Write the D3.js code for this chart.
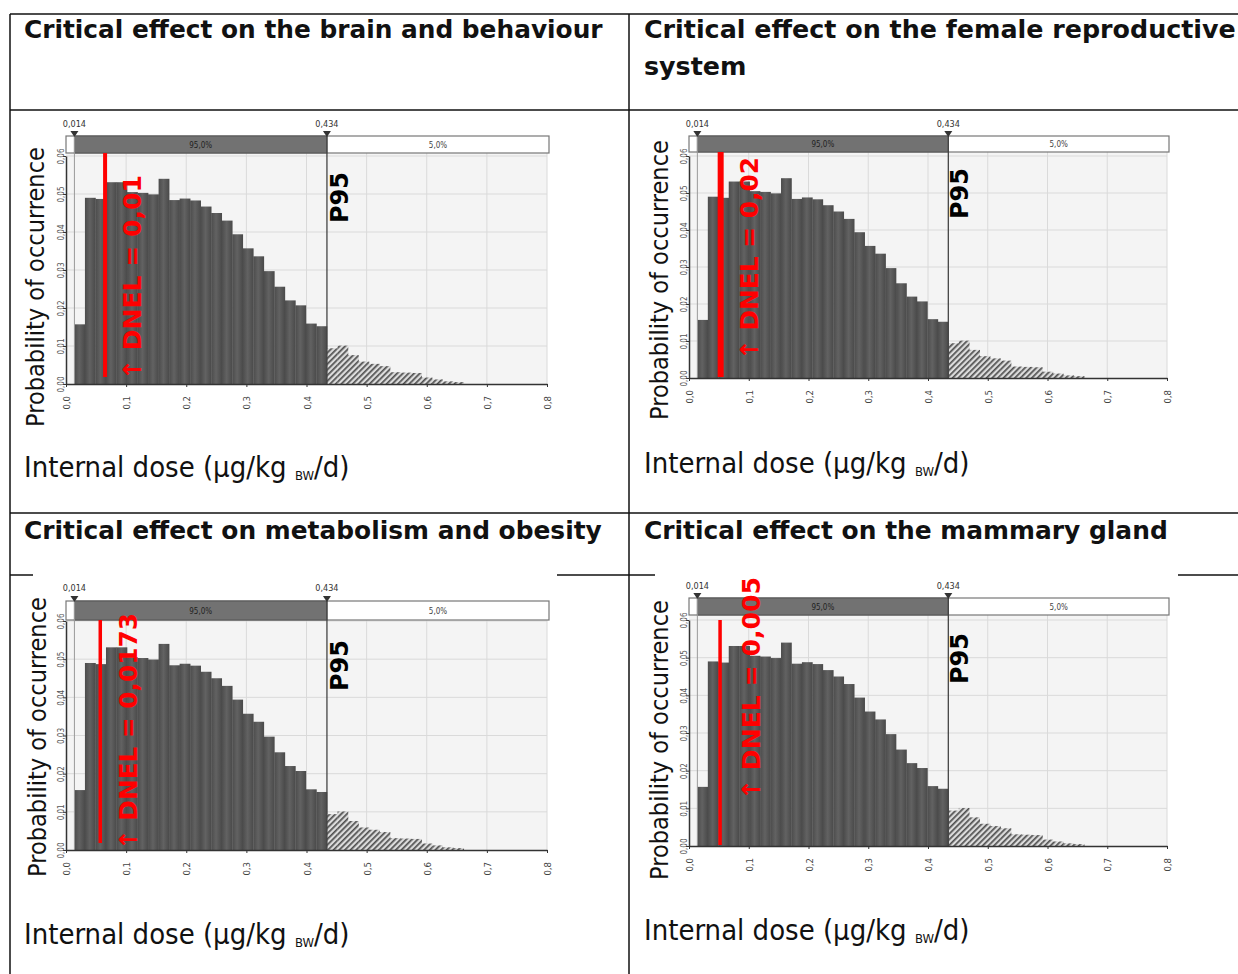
<!DOCTYPE html>
<html><head><meta charset="utf-8">
<script src="https://cdn.jsdelivr.net/npm/d3@7"></script>
<style>body{margin:0;background:#fff}svg{display:block}</style>
</head><body>
<script>
// ---------------- data ----------------
const panelTitles = [
  ["Critical effect on the brain and behaviour"],
  ["Critical effect on the female reproductive", "system"],
  ["Critical effect on metabolism and obesity"],
  ["Critical effect on the mammary gland"]
];
const dnelLabels = ["0,01", "0,02", "0,0173", "0,005"];
const dnelMarkX = [0.065, 0.053, 0.057, 0.052];   // where the red DNEL bar is drawn (dose units)
const binStart = 0.014, binWidth = 0.0175;
const probCentral = [0.0157, 0.0490, 0.0487, 0.0531, 0.0531, 0.0505, 0.0503, 0.0499,
                     0.0540, 0.0484, 0.0488, 0.0483, 0.0467, 0.0450, 0.0430, 0.0394,
                     0.0357, 0.0336, 0.0297, 0.0256, 0.0220, 0.0207, 0.0159, 0.0152];
const probTail = [0.0094, 0.0101, 0.0076, 0.0059, 0.0053, 0.0047, 0.0031, 0.0030,
                  0.0029, 0.0017, 0.0012, 0.0007, 0.0005];
const lowerBound = 0.014, p95 = 0.434;
const boundLabels = ["0,014", "0,434"];
const bandLabels = ["95,0%", "5,0%"];
const xTicks = [0, 0.1, 0.2, 0.3, 0.4, 0.5, 0.6, 0.7, 0.8];
const xTickLabels = ["0,0", "0,1", "0,2", "0,3", "0,4", "0,5", "0,6", "0,7", "0,8"];
const yTicks = [0, 0.01, 0.02, 0.03, 0.04, 0.05, 0.06];
const yTickLabels = ["0,00", "0,01", "0,02", "0,03", "0,04", "0,05", "0,06"];
const yAxisTitle = "Probability of occurrence";
const xAxisTitle = ["Internal dose (µg/kg ", "BW", "/d)"];
const p95Label = "P95";

// ---------------- layout ----------------
const W = 1238, H = 974;
const titleWidths = [579, 592, 578, 524];
const layout = [
  {tx: 24, ty: 38, x0: 66, x1: 547, yTop: 156, yBase: 384, bTop: 136, bBot: 153, lblY: 127,
   redTop: 153, redBot: 377, redW: 4, dnX: 141, dnY: 380, dnLen: 205, pX: 348, pY: 223,
   prX: 44, prCy: 287, xtY: 477},
  {tx: 644, ty: 38, x0: 689, x1: 1167, yTop: 156, yBase: 378, bTop: 136, bBot: 152, lblY: 127,
   redTop: 152, redBot: 377, redW: 6, dnX: 758, dnY: 360, dnLen: 203, pX: 968, pY: 219,
   prX: 668, prCy: 280, xtY: 473},
  {tx: 24, ty: 539, x0: 66, x1: 547, yTop: 621, yBase: 850, bTop: 601, bBot: 620, lblY: 591,
   redTop: 620, redBot: 843, redW: 3.5, dnX: 137, dnY: 850, dnLen: 237, pX: 348, pY: 691,
   prX: 46, prCy: 737, xtY: 944, img: [33, 557]},
  {tx: 644, ty: 539, x0: 689, x1: 1167, yTop: 620, yBase: 846, bTop: 598, bBot: 615, lblY: 589,
   redTop: 620, redBot: 845, redW: 3.5, dnX: 760, dnY: 800, dnLen: 223, pX: 968, pY: 684,
   prX: 668, prCy: 740, xtY: 940, img: [655, 1178]}
];
const narrow = "'DejaVu Sans Condensed', Tahoma, 'DejaVu Sans', sans-serif";
const wide = "Verdana, 'DejaVu Sans', sans-serif";

const svg = d3.select("body").append("svg").attr("width", W).attr("height", H)
  .style("font-family", narrow);

const defs = svg.append("defs");
const grad = defs.append("linearGradient").attr("id", "barGrad").attr("x1", 0).attr("x2", 1).attr("y1", 0).attr("y2", 0);
grad.append("stop").attr("offset", "0%").attr("stop-color", "#4c4c4c");
grad.append("stop").attr("offset", "45%").attr("stop-color", "#626262");
grad.append("stop").attr("offset", "100%").attr("stop-color", "#494949");
const pat = defs.append("pattern").attr("id", "hatch").attr("patternUnits", "userSpaceOnUse")
  .attr("width", 4).attr("height", 4).attr("patternTransform", "rotate(45)");
pat.append("rect").attr("width", 4).attr("height", 4).attr("fill", "#dcdcdc");
pat.append("rect").attr("width", 1.7).attr("height", 4).attr("fill", "#505050");

function fitText(sel, target) {
  const w = sel.node().getComputedTextLength();
  const fs = parseFloat(sel.attr("font-size"));
  sel.attr("font-size", fs * target / w);
  return fs * target / w;
}

// ---------------- table ----------------
const table = svg.append("g").attr("stroke", "#111").attr("stroke-width", 1.5);
[[10, 14, 1238, 14], [10, 110, 1238, 110], [10, 513, 1238, 513], [10, 575, 1238, 575],
 [10, 14, 10, 974], [629, 14, 629, 974]].forEach(l =>
  table.append("line").attr("x1", l[0]).attr("y1", l[1]).attr("x2", l[2]).attr("y2", l[3]));

layout.forEach((L, pi) => {
  const g = svg.append("g");
  if (L.img) g.append("rect").attr("x", L.img[0]).attr("y", 566).attr("width", L.img[1] - L.img[0])
    .attr("height", 340).attr("fill", "#fff");

  let tfs = 17;
  panelTitles[pi].forEach((line, li) => {
    const t = g.append("text").attr("x", L.tx).attr("y", L.ty + li * 37).attr("font-size", tfs)
      .attr("font-weight", "bold").attr("font-family", wide)
      .attr("fill", "#111").text(line);
    if (li === 0) tfs = fitText(t, titleWidths[pi]);
  });

  const x = d3.scaleLinear().domain([0, 0.8]).range([L.x0, L.x1]);
  const y = d3.scaleLinear().domain([0, 0.06]).range([L.yBase, L.yTop]);

  // plot background
  g.append("rect").attr("x", L.x0).attr("y", L.bBot).attr("width", L.x1 - L.x0)
    .attr("height", L.yBase - L.bBot).attr("fill", "#f4f4f4");
  // grid
  g.append("g").selectAll("line").data(xTicks.slice(1)).join("line")
    .attr("x1", d => x(d)).attr("x2", d => x(d)).attr("y1", L.bBot).attr("y2", L.yBase)
    .attr("stroke", "#dadada").attr("stroke-width", 1);
  g.append("g").selectAll("line").data(yTicks.slice(1)).join("line")
    .attr("x1", L.x0).attr("x2", L.x1).attr("y1", d => y(d)).attr("y2", d => y(d))
    .attr("stroke", "#dadada").attr("stroke-width", 1);

  // band
  g.append("rect").attr("x", L.x0).attr("y", L.bTop).attr("width", L.x1 + 2 - L.x0)
    .attr("height", L.bBot - L.bTop).attr("fill", "#fff").attr("stroke", "#777").attr("stroke-width", 1.2);
  g.append("rect").attr("x", x(lowerBound)).attr("y", L.bTop).attr("width", x(p95) - x(lowerBound))
    .attr("height", L.bBot - L.bTop).attr("fill", "#727272").attr("stroke", "#555");
  const bMid = (L.bTop + L.bBot) / 2 + 3;
  g.append("text").attr("x", (x(lowerBound) + x(p95)) / 2).attr("y", bMid).attr("text-anchor", "middle")
    .attr("font-size", 8).attr("fill", "#222").text(bandLabels[0]);
  g.append("text").attr("x", (x(p95) + L.x1 + 2) / 2).attr("y", bMid).attr("text-anchor", "middle")
    .attr("font-size", 8).attr("fill", "#444").text(bandLabels[1]);

  // bars
  g.append("g").selectAll("rect").data(probCentral).join("rect")
    .attr("x", (d, i) => x(binStart + i * binWidth))
    .attr("width", (d, i) => x(binStart + (i + 1) * binWidth) - x(binStart + i * binWidth) + 0.3)
    .attr("y", d => y(d)).attr("height", d => y(0) - y(d))
    .attr("fill", "url(#barGrad)");
  g.append("g").selectAll("rect").data(probTail).join("rect")
    .attr("x", (d, i) => x(binStart + (i + probCentral.length) * binWidth))
    .attr("width", (d, i) => x(binStart + (i + 1 + probCentral.length) * binWidth) - x(binStart + (i + probCentral.length) * binWidth) + 0.3)
    .attr("y", d => y(d)).attr("height", d => y(0) - y(d))
    .attr("fill", "url(#hatch)");

  // bound lines
  g.append("line").attr("x1", x(lowerBound)).attr("x2", x(lowerBound)).attr("y1", L.bTop).attr("y2", L.yBase)
    .attr("stroke", "#999").attr("stroke-width", 1);
  g.append("line").attr("x1", x(p95)).attr("x2", x(p95)).attr("y1", L.bTop).attr("y2", L.yBase)
    .attr("stroke", "#444").attr("stroke-width", 1.3);

  // triangles and bound labels
  [lowerBound, p95].forEach((v, k) => {
    const cx = x(v);
    g.append("path").attr("d", `M${cx - 4},${L.bTop - 5}L${cx + 4},${L.bTop - 5}L${cx},${L.bTop + 1}Z`).attr("fill", "#333");
    g.append("text").attr("x", cx).attr("y", L.lblY).attr("text-anchor", "middle")
      .attr("font-size", 9).attr("fill", "#333").text(boundLabels[k]);
  });

  // axes
  const xa = g.append("g").attr("transform", `translate(0,${L.yBase})`)
    .call(d3.axisBottom(x).tickValues(xTicks).tickFormat((d, i) => xTickLabels[i]).tickSize(3).tickSizeOuter(0));
  xa.select(".domain").attr("stroke", "#333").attr("stroke-width", 1.5);
  xa.selectAll(".tick line").attr("stroke", "#333");
  xa.selectAll(".tick text").attr("x", 0).attr("y", 0).attr("dy", null)
    .attr("text-anchor", "end").attr("transform", "translate(3.5,12) rotate(-90)")
    .attr("font-size", 9.5).attr("fill", "#444").attr("font-family", narrow);

  const ya = g.append("g").attr("transform", `translate(${L.x0},0)`)
    .call(d3.axisLeft(y).tickValues(yTicks).tickFormat((d, i) => yTickLabels[i]).tickSize(3).tickSizeOuter(0));
  ya.select(".domain").attr("stroke", "#333").attr("stroke-width", 1.5);
  ya.selectAll(".tick line").attr("stroke", "#333");
  ya.selectAll(".tick text").attr("x", 0).attr("y", 0).attr("dy", null)
    .attr("text-anchor", "middle").attr("transform", "translate(-2,0) rotate(-90)")
    .attr("font-size", 8).attr("fill", "#555").attr("font-family", narrow);

  // y axis title
  const yt = g.append("text").attr("text-anchor", "middle")
    .attr("transform", `translate(${L.prX},${L.prCy}) rotate(-90)`)
    .attr("font-size", 20).attr("fill", "#111").attr("font-family", narrow).text(yAxisTitle);
  fitText(yt, 280);

  // red DNEL bar and label
  g.append("line").attr("x1", x(dnelMarkX[pi])).attr("x2", x(dnelMarkX[pi]))
    .attr("y1", L.redTop).attr("y2", L.redBot).attr("stroke", "#ff0000").attr("stroke-width", L.redW);
  const dn = g.append("text").attr("transform", `translate(${L.dnX},${L.dnY}) rotate(-90)`)
    .attr("font-size", 24).attr("font-weight", "bold").attr("fill", "#ff0000")
    .attr("font-family", wide)
    .text("↑ DNEL = " + dnelLabels[pi]);
  fitText(dn, L.dnLen);

  // P95 label
  g.append("text").attr("transform", `translate(${L.pX},${L.pY}) rotate(-90)`)
    .attr("font-size", 24).attr("font-weight", "bold").attr("fill", "#000")
    .attr("font-family", wide).text(p95Label);

  // x axis caption
  const xc = g.append("text").attr("x", L.tx).attr("y", L.xtY).attr("font-size", 21)
    .attr("fill", "#111").attr("font-family", narrow);
  xc.append("tspan").text(xAxisTitle[0]);
  xc.append("tspan").attr("font-size", 13).attr("dy", 3).text(xAxisTitle[1]);
  xc.append("tspan").attr("dy", -3).text(xAxisTitle[2]);
  fitText(xc, 333);
});
</script>
</body></html>
